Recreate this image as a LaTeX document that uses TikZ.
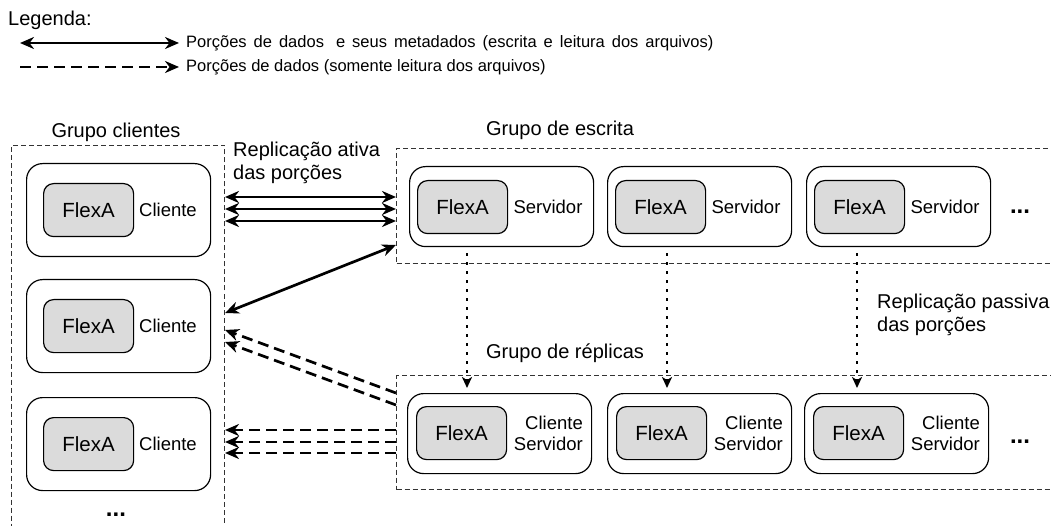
\documentclass[tikz,border=0pt]{standalone}
\usepackage{fontspec}
\setmainfont{Liberation Sans}
\usetikzlibrary{arrows.meta}
\begin{document}
\begin{tikzpicture}[x=1pt,y=-1pt,
  every node/.style={inner sep=0pt, font=\fontsize{18.5}{21}\selectfont},
  grp/.style={draw=black!80, line width=1pt, dash pattern=on 5pt off 3pt},
  outerbox/.style={draw, line width=1.2pt, rounded corners=16pt, fill=white, anchor=north west, minimum width=184pt},
  flexbox/.style={draw, line width=1.2pt, rounded corners=10pt, fill=black!14, anchor=north west, minimum width=90pt, minimum height=53pt, font=\fontsize{20.5}{22}\selectfont},
  solidarr/.style={line width=2.7pt, {Stealth[length=14pt,width=12pt,inset=4.5pt]}-{Stealth[length=14pt,width=12pt,inset=4.5pt]}},
  dasharr/.style={line width=2.7pt, dash pattern=on 11pt off 6pt, -{Stealth[length=14pt,width=12pt,inset=4.5pt]}},
  dotarr/.style={line width=2.6pt, dash pattern=on 2.6pt off 6.4pt, -{Stealth[length=11pt,width=10pt,inset=3pt]}},
  title/.style={font=\fontsize{20}{23}\selectfont},
  lbl/.style={font=\fontsize{20}{22.5}\selectfont, align=left, anchor=west},
  legtxt/.style={anchor=west, font=\fontsize{16.5}{19}\selectfont},
  dots/.style={font=\fontsize{24}{24}\selectfont\bfseries}
]
\useasboundingbox (0,0) rectangle (1051,526);

% legend
\node[anchor=west, font=\fontsize{20}{22}\selectfont] (leg) at (8,20) {Legenda:};
\node[legtxt] (lt1) at (186,43) {\spaceskip=7pt Porções de dados\hspace{12pt}e seus metadados (escrita e leitura dos arquivos)};
\node[legtxt] (lt2) at (186,67) {Porções de dados (somente leitura dos arquivos)};
\coordinate (l1a) at (20,43);
\coordinate (l2a) at (20,67);
\draw[solidarr] (l1a) -- ([xshift=-7pt]lt1.west);
\draw[dasharr] (l2a) -- ([xshift=-7pt]lt2.west);

% groups
\node[grp, anchor=north west, minimum width=213pt, minimum height=420pt] (gc) at (11,145) {};
\node[grp, anchor=north west, minimum width=680pt, minimum height=115pt] (gw) at (396,148) {};
\node[grp, anchor=north west, minimum width=680pt, minimum height=114pt] (gr) at (396,375) {};

\node[title] (tgc) at (116,132) {Grupo clientes};
\node[title] (tgw) at (560,130) {Grupo de escrita};
\node[title] (tgr) at (565,353) {Grupo de réplicas};
\node[lbl] (ta) at (233,163) {Replicação ativa\\das porções};
\node[lbl] (tp) at (877,315) {Replicação passiva\\das porções};

% clients
\foreach \i/\y in {1/163,2/279,3/397}{
  \node[outerbox, minimum height=93pt] (c\i) at (26,\y) {};
  \node[flexbox] (c\i f) at (43,\y+20) {FlexA};
  \node (c\i t) at (168,\y+46.5) {Cliente};
}
\node[dots] (cd) at (116,515) {...};

% servers
\foreach \i/\x in {1/409,2/607,3/806}{
  \node[outerbox, minimum height=80pt] (s\i) at (\x,166) {};
  \node[flexbox] (s\i f) at (\x+8,180) {FlexA};
  \node (s\i t) at (\x+139,207) {Servidor};
}
\node[dots] (sd) at (1020,212) {...};

% replicas
\foreach \i/\x in {1/407,2/607,3/804}{
  \node[outerbox, minimum height=80pt] (r\i) at (\x,393) {};
  \node[flexbox] (r\i f) at (\x+9,406) {FlexA};
  \node[anchor=east, align=right] (r\i t) at (\x+176,433) {Cliente\\Servidor};
}
\node[dots] (rd) at (1020,442) {...};

% passive replication (dotted)
\path (467,0) coordinate (x1) (667,0) coordinate (x2) (857,0) coordinate (x3);
\foreach \i in {1,2,3}{
  \draw[dotarr] ([yshift=-6pt]s\i.south -| x\i) -- ([yshift=5pt]r\i.north -| x\i);
}

% active replication
\foreach \y in {197,209,221}{
  \draw[solidarr] (gc.east |- 0,\y) -- (gw.west |- 0,\y);
}
\draw[solidarr] (gw.west |- 0,245) -- (gc.east |- 0,313);
\draw[dasharr] (gr.west |- 0,393) -- (gc.east |- 0,330);
\draw[dasharr] (gr.west |- 0,405) -- (gc.east |- 0,342);
\foreach \y in {430,442,453}{
  \draw[dasharr] (gr.west |- 0,\y) -- (gc.east |- 0,\y);
}
\end{tikzpicture}
\end{document}
